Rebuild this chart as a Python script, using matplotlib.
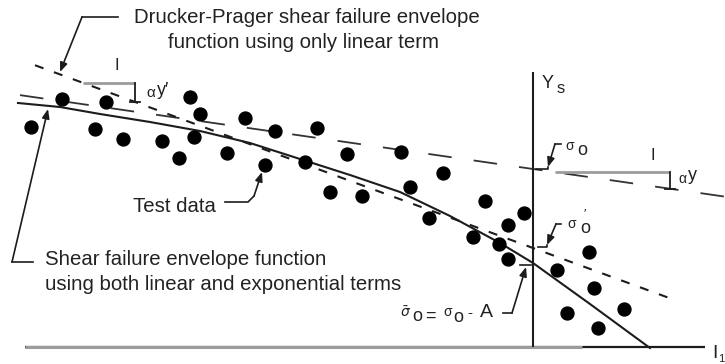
import matplotlib
matplotlib.use("Agg")
import matplotlib.pyplot as plt
import numpy as np

plt.rcParams['font.family'] = ['Liberation Sans', 'DejaVu Sans']
plt.rcParams['lines.scale_dashes'] = False
plt.rcParams['mathtext.fontset'] = 'dejavusans'

# Test data: I1 along x, shear strength along y (origin where Ys meets I1)
test_i1 = [-502, -471, -438, -427, -410, -371, -354, -343, -339, -333, -306, -288,
           -268, -258, -228, -216, -203, -186, -171, -132, -123, -104, -90, -60,
           -48, -34, -25, -25, -9, 24, 34, 56, 61, 65, 91]
test_ys = [221, 249, 219, 246, 209, 207, 190, 251, 211, 234, 195, 230,
           183, 217, 186, 220, 156, 194, 152, 196, 161, 130, 175, 111,
           147, 104, 123, 89, 135, 78, 35, 96, 60, 20, 39]

# Envelope using linear + exponential terms, sampled along I1
env_i1 = [-515, -473, -433, -383, -333, -283, -233, -183, -133, -83, -33, 0, 57, 117]
env_ys = [245, 241, 234, 226, 217, 205, 189, 173, 156, 132, 105, 85, 44, 0]

# Drucker-Prager envelope (linear term only): intercept sigma_o, slope alpha_y
sigma_o = 179
alpha_y = 0.144
dp_span = [-513, 192]

# Line tangent to the envelope at low I1: intercept sigma_o', slope alpha_y'
sigma_op = 100
alpha_yp = 0.367
tan_span = [-498, 137]

ink = '#1c1c1c'
gray = '#9c9c9c'
txt = '#222222'

fig = plt.figure(figsize=(7.25, 3.64), dpi=100)
ax = fig.add_axes([0, 0, 1, 1])
ax.set_xlim(-533, 192)
ax.set_ylim(-16, 348)
ax.axis('off')

# Axes: I1 (horizontal, grey on its left part) and Ys (vertical)
ax.plot([-508, 172], [1, 1], color=ink, lw=1.6, solid_capstyle='butt', zorder=2)
ax.plot([-508, 49], [1, 1], color=gray, lw=2.2, solid_capstyle='butt', zorder=3)
ax.plot([0, 0], [1, 276], color=ink, lw=1.5, solid_capstyle='butt', zorder=4)

# Drucker-Prager line (long dashes)
x = np.array(dp_span, dtype=float)
ax.plot(x, sigma_o - alpha_y * x, color='#333333', lw=1.3, dashes=(17, 16))

# Tangent line (short dashes)
x = np.array(tan_span, dtype=float)
ax.plot(x, sigma_op - alpha_yp * x, color=ink, lw=1.5, dashes=(6.5, 8))

# Envelope with exponential term
ax.plot(env_i1, env_ys, color=ink, lw=1.5, solid_joinstyle='round')

# Test data
ax.plot(test_i1, test_ys, 'o', ms=9.3, color='black', mec='black', zorder=5)


def slope_bracket(x0, run, b, m):
    y0 = b - m * x0
    y1 = b - m * (x0 + run)
    ax.plot([x0, x0 + run], [y0, y0], color=gray, lw=2.0, solid_capstyle='butt')
    ax.plot([x0 + run, x0 + run], [y0, y1], color=ink, lw=1.3)
    ax.plot([x0 + run - 5, x0 + run + 5], [y1, y1], color=ink, lw=1.3)


slope_bracket(-450, 52, sigma_op, alpha_yp)
slope_bracket(22, 115, sigma_o, alpha_y)

ax.text(-416, 282, "I", fontsize=12, ha='center', va='center', color=txt)
ax.text(-387, 251, "α", fontsize=11, color=txt)
ax.text(-376, 253, "y′", fontsize=13, color=txt)

ax.text(120, 193, "I", fontsize=12, ha='center', va='center', color=txt)
ax.text(145, 165, "α", fontsize=10, color=txt)
ax.text(155, 168, "y", fontsize=13, color=txt)

# Axis labels
ax.text(9, 260, "Y", fontsize=13, color=txt)
ax.text(24, 255, "s", fontsize=12, color=txt)
ax.text(179, -10, "I", fontsize=14, color=txt)
ax.text(185, -14, "1", fontsize=8, color=txt)

# Intercept labels
ax.text(32, 198, "σ", fontsize=10, color=txt)
ax.text(44, 193, "o", fontsize=13, color=txt)
ax.text(34, 120, "σ", fontsize=10, color=txt)
ax.text(47, 115, "o", fontsize=13, color=txt)
ax.text(50, 130, "′", fontsize=9, color=txt)

ax.text(-133, 31, r"$\bar{\sigma}$", fontsize=10, color=txt)
ax.text(-121, 27, "o", fontsize=13, color=txt)
ax.text(-103, 32, "=", fontsize=13, ha='center', va='center', color=txt)
ax.text(-90, 32, "σ", fontsize=10, color=txt)
ax.text(-80, 26, "o", fontsize=13, color=txt)
ax.text(-63, 35, "-", fontsize=11, ha='center', va='center', color=txt)
ax.text(-53, 31, "A", fontsize=14, color=txt)

# Callout text
fs = 14.7
ax.text(-226, 325, "Drucker-Prager shear failure envelope", fontsize=fs,
        ha='center', color=txt)
ax.text(-230, 300, "function using only linear term", fontsize=fs,
        ha='center', color=txt)
ax.text(-400, 136, "Test data", fontsize=fs, color=txt)
ax.text(-488, 83, "Shear failure envelope function", fontsize=fs, color=txt)
ax.text(-488, 58, "using both linear and exponential terms", fontsize=fs, color=txt)

arrow = dict(arrowstyle='-|>,head_length=0.55,head_width=0.22', lw=1.2,
             color=ink, shrinkA=0, shrinkB=0)


def leader(points, tip):
    xs, ys = zip(*points)
    ax.plot(xs, ys, color=ink, lw=1.2, solid_joinstyle='miter')
    ax.annotate("", xy=tip, xytext=points[-1], arrowprops=arrow)


leader([(-415, 331), (-451, 331)], (-473, 276))
leader([(-308, 146), (-285, 146), (-279, 152)], (-271, 176))
leader([(-500, 86), (-521, 86)], (-485, 239))

leader([(28, 204), (22, 204)], (15, 181))
ax.plot([15, 15, 3], [181, 179, 179], color=ink, lw=1.2)
leader([(28, 124), (23, 124)], (14, 103))
ax.plot([14, 14, 5], [103, 101, 101], color=ink, lw=1.2)
leader([(-30, 35), (-21, 35)], (-7, 81))
ax.plot([-13, -2], [83, 83], color=ink, lw=1.2)

fig.savefig("out.png", dpi=100)
